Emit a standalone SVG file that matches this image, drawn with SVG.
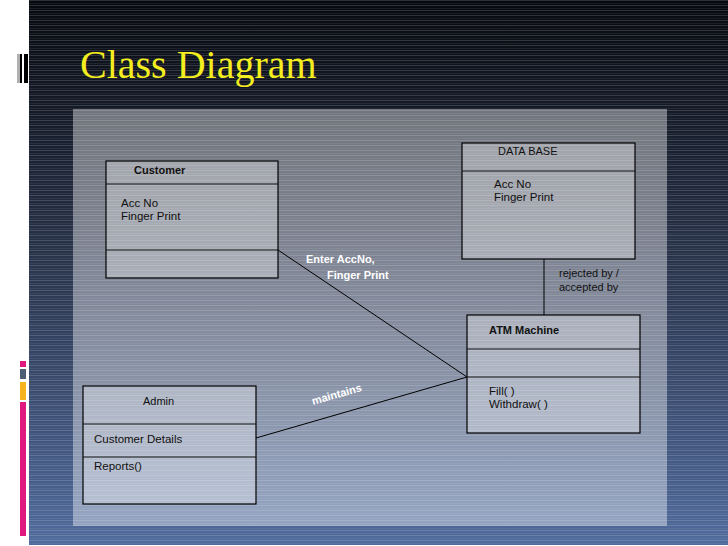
<svg xmlns="http://www.w3.org/2000/svg" width="728" height="546" viewBox="0 0 728 546">
<defs>
<linearGradient id="bg" x1="0" y1="0" x2="0" y2="1">
<stop offset="0" stop-color="#07090f"/>
<stop offset="0.2" stop-color="#141a27"/>
<stop offset="0.55" stop-color="#2e3a55"/>
<stop offset="1" stop-color="#4f6a9c"/>
</linearGradient>
<pattern id="stripes" width="8" height="5" patternUnits="userSpaceOnUse">
<rect x="0" y="0" width="8" height="1" fill="#ffffff" opacity="0.16"/>
<rect x="0" y="3" width="8" height="1" fill="#ffffff" opacity="0.07"/>
</pattern>
<style>
.box{fill:#ffffff;fill-opacity:0.32;stroke:#000;stroke-width:1.2}
.div{stroke:#111;stroke-width:1.2}
.t{font-family:"Liberation Sans",Arial,sans-serif;font-size:11.5px;fill:#111}
.h{font-family:"Liberation Sans",Arial,sans-serif;font-size:11px;font-weight:bold;fill:#111}
.lbl{font-family:"Liberation Sans",Arial,sans-serif;font-size:11px;font-weight:bold;fill:#ffffff}
.lbl2{font-family:"Liberation Sans",Arial,sans-serif;font-size:11px;fill:#111}
.conn{stroke:#000;stroke-width:1;fill:none}
</style>
</defs>
<rect x="0" y="0" width="728" height="546" fill="#ffffff"/>
<rect x="29" y="0" width="699" height="545" fill="url(#bg)"/>
<rect x="29" y="0" width="699" height="545" fill="url(#stripes)"/>
<rect x="17" y="54" width="3" height="29" fill="#b0b0b0"/>
<rect x="20" y="54" width="2" height="29" fill="#000"/>
<rect x="22" y="54" width="2" height="29" fill="#fff"/>
<rect x="24" y="54" width="4" height="29" fill="#000"/>
<rect x="20" y="361" width="6" height="6" fill="#e0197f"/>
<rect x="20" y="369" width="6" height="10" fill="#4e5f74"/>
<rect x="20" y="382" width="6" height="18" fill="#f7b31b"/>
<rect x="20" y="402" width="6" height="134" fill="#e0197f"/>
<text x="80" y="78" font-family="'Liberation Serif','Times New Roman',serif" font-size="40" fill="#f5ee1e">Class Diagram</text>
<rect x="73" y="109" width="594" height="417" fill="#ffffff" fill-opacity="0.4"/>
<g id="connectors">
<line class="conn" x1="278" y1="250" x2="467" y2="377"/>
<line class="conn" x1="256" y1="438" x2="467" y2="377"/>
<line class="conn" x1="544" y1="259" x2="544" y2="315"/>
<text class="lbl" x="306" y="263">Enter AccNo,</text>
<text class="lbl" x="327" y="279">Finger Print</text>
<text class="lbl" x="313" y="405" transform="rotate(-16 313 405)">maintains</text>
<text class="lbl2" x="559" y="277">rejected by /</text>
<text class="lbl2" x="559" y="291">accepted by</text>
</g>
<g id="customer">
<rect class="box" x="106" y="161" width="172" height="117"/>
<line class="div" x1="106" y1="184" x2="278" y2="184"/>
<line class="div" x1="106" y1="250" x2="278" y2="250"/>
<text class="h" x="134" y="174">Customer</text>
<text class="t" x="121" y="207">Acc No</text>
<text class="t" x="121" y="220">Finger Print</text>
</g>
<g id="database">
<rect class="box" x="462" y="143" width="173" height="116"/>
<line class="div" x1="462" y1="171" x2="635" y2="171"/>
<text class="h" x="498" y="155" style="font-weight:normal">DATA BASE</text>
<text class="t" x="494" y="188">Acc No</text>
<text class="t" x="494" y="201">Finger Print</text>
</g>
<g id="atm">
<rect class="box" x="467" y="315" width="173" height="118"/>
<line class="div" x1="467" y1="349" x2="640" y2="349"/>
<line class="div" x1="467" y1="377" x2="640" y2="377"/>
<text class="h" x="489" y="334">ATM Machine</text>
<text class="t" x="489" y="395">Fill( )</text>
<text class="t" x="489" y="408">Withdraw( )</text>
</g>
<g id="admin">
<rect class="box" x="83" y="386" width="173" height="118"/>
<line class="div" x1="83" y1="424" x2="256" y2="424"/>
<line class="div" x1="83" y1="457" x2="256" y2="457"/>
<text class="h" x="143" y="405" style="font-weight:normal">Admin</text>
<text class="t" x="94" y="443">Customer Details</text>
<text class="t" x="94" y="470">Reports()</text>
</g>
</svg>
